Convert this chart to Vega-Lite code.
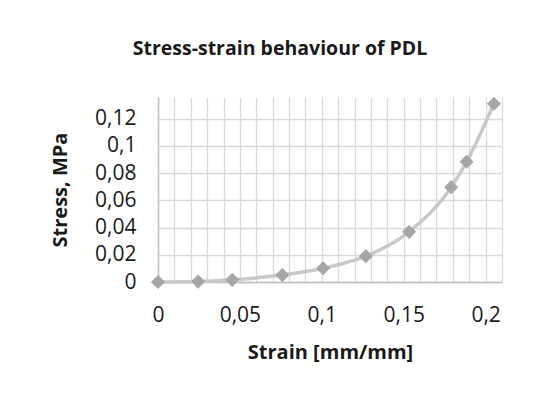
{
  "$schema": "https://vega.github.io/schema/vega-lite/v6.json",
  "autosize": {"type": "none"},
  "padding": {"left": 158, "top": 97, "right": 49, "bottom": 118},
  "width": 344,
  "height": 185,
  "background": "white",
  "config": {
    "locale": {"number": {"decimal": ",", "thousands": ".", "grouping": [3], "currency": ["", " €"]}},
    "font": "Open Sans",
    "view": {"stroke": null}
  },
  "title": {
    "text": "Stress-strain behaviour of PDL",
    "font": "Open Sans",
    "fontSize": 19.5,
    "fontWeight": "bold",
    "color": "#1a1a1a",
    "anchor": "middle",
    "dx": -50,
    "offset": 37
  },
  "data": {
    "values": [
      {"strain": 0.0, "stress": 0.0},
      {"strain": 0.0245, "stress": 0.0003},
      {"strain": 0.0453, "stress": 0.0016},
      {"strain": 0.0759, "stress": 0.0051},
      {"strain": 0.1008, "stress": 0.0101},
      {"strain": 0.1269, "stress": 0.019},
      {"strain": 0.1533, "stress": 0.0369},
      {"strain": 0.179, "stress": 0.0697},
      {"strain": 0.1884, "stress": 0.0884},
      {"strain": 0.2051, "stress": 0.131}
    ]
  },
  "encoding": {
    "x": {
      "field": "strain",
      "type": "quantitative",
      "scale": {"domain": [0, 0.21], "nice": false, "zero": false},
      "axis": {
        "title": "Strain [mm/mm]",
        "titleFont": "Open Sans",
        "titleFontSize": 20,
        "titleFontWeight": "bold",
        "titleColor": "#1a1a1a",
        "titlePadding": 17,
        "values": [0, 0.01, 0.02, 0.03, 0.04, 0.05, 0.06, 0.07, 0.08, 0.09, 0.1, 0.11, 0.12, 0.13, 0.14, 0.15, 0.16, 0.17, 0.18, 0.19, 0.2, 0.21],
        "format": "~g",
        "labelExpr": "round(datum.value*100) % 5 == 0 ? datum.label : ''",
        "labelFont": "Open Sans",
        "labelFontSize": 21,
        "labelColor": "#1a1a1a",
        "labelPadding": 22,
        "labelFlush": false,
        "labelOverlap": false,
        "ticks": false,
        "domainColor": "#bfbfbf",
        "domainWidth": 1.5,
        "grid": true,
        "gridColor": "#d9d9d9",
        "gridWidth": 1.3
      }
    },
    "y": {
      "field": "stress",
      "type": "quantitative",
      "scale": {"domain": [0, 0.136], "nice": false},
      "axis": {
        "title": "Stress, MPa",
        "titleFont": "Open Sans",
        "titleFontSize": 20,
        "titleFontWeight": "bold",
        "titleColor": "#1a1a1a",
        "titlePadding": 24,
        "values": [0, 0.02, 0.04, 0.06, 0.08, 0.1, 0.12],
        "format": "~g",
        "labelFont": "Open Sans",
        "labelFontSize": 21,
        "labelColor": "#1a1a1a",
        "labelPadding": 22,
        "labelFlush": false,
        "ticks": false,
        "domainColor": "#bfbfbf",
        "domainWidth": 1.5,
        "grid": true,
        "gridColor": "#d9d9d9",
        "gridWidth": 1.3
      }
    }
  },
  "layer": [
    {
      "mark": {"type": "line", "interpolate": "monotone", "color": "#c8c8c8", "strokeWidth": 3.5}
    },
    {
      "mark": {"type": "point", "shape": "diamond", "filled": true, "color": "#a6a6a6", "opacity": 1, "size": 200}
    }
  ]
}
